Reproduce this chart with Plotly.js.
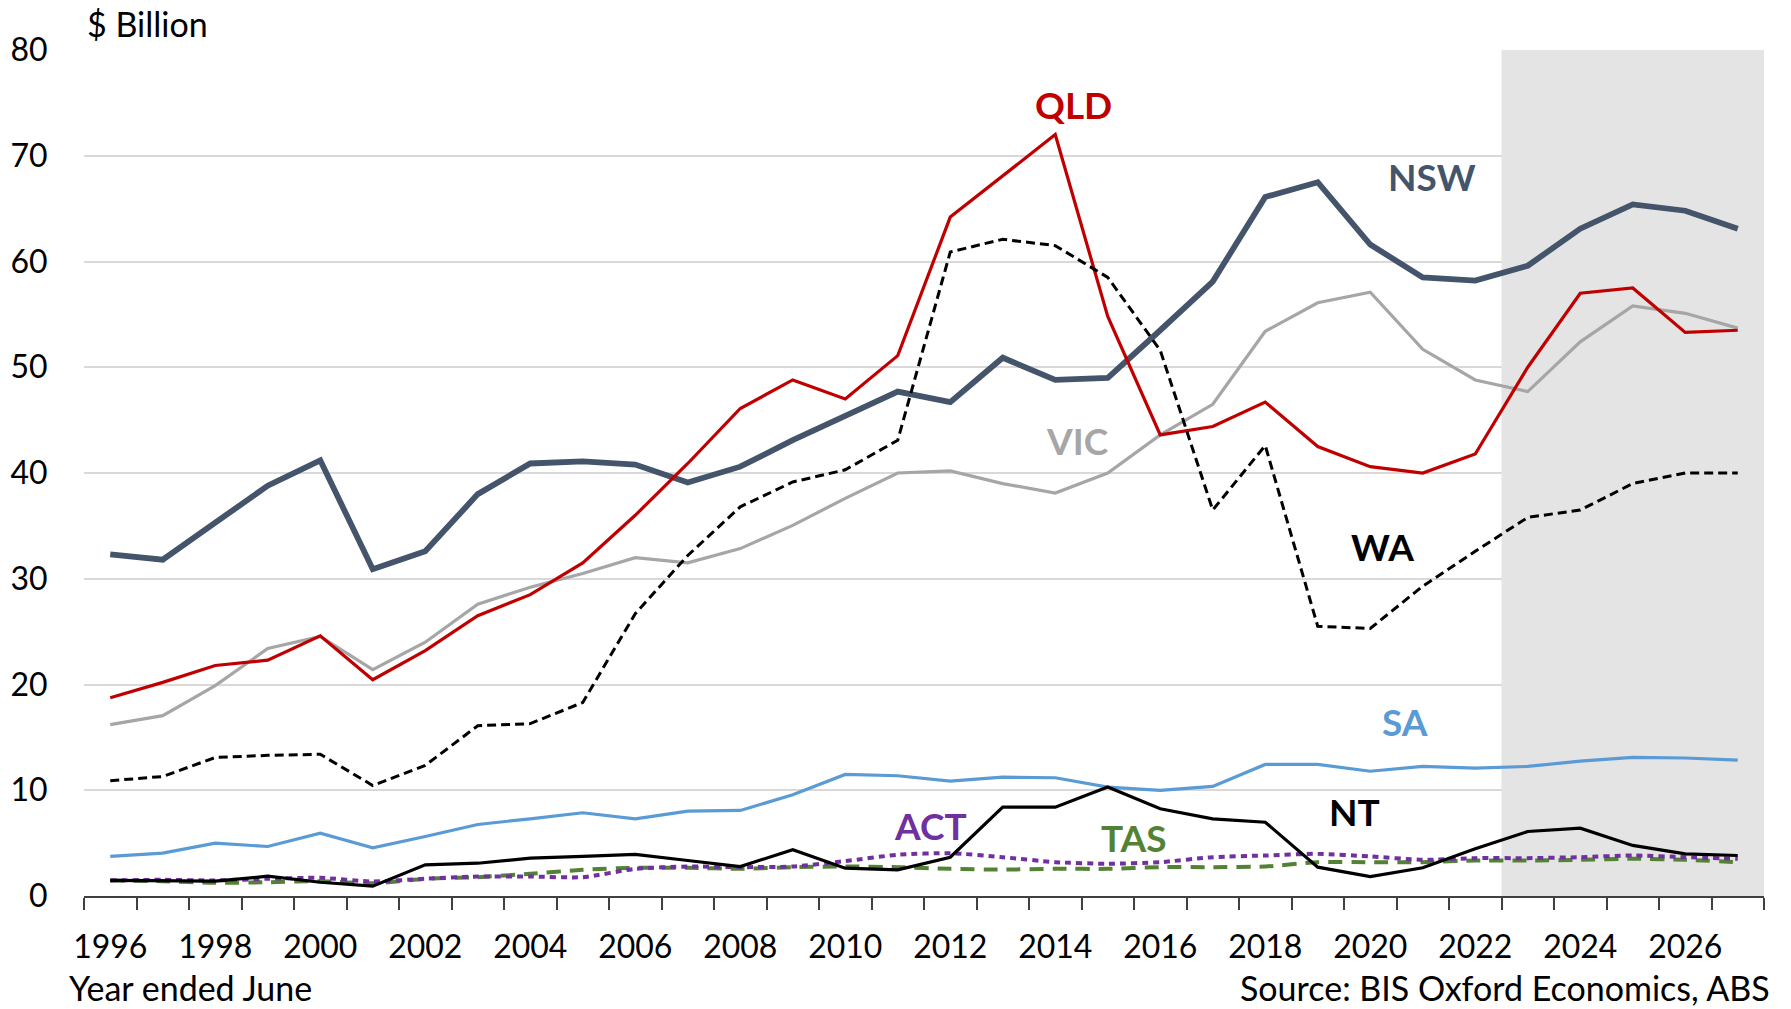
<!DOCTYPE html>
<html>
<head>
<meta charset="utf-8">
<script src="https://cdn.plot.ly/plotly-3.0.1.min.js"></script>
<style>
  html, body { margin: 0; padding: 0; background: #ffffff; }
  #chart { width: 1791px; height: 1009px; }
</style>
</head>
<body>
<div id="chart"></div>
<script>
// Years (year ended June)
const years = [1996,1997,1998,1999,2000,2001,2002,2003,2004,2005,2006,2007,2008,2009,2010,2011,
               2012,2013,2014,2015,2016,2017,2018,2019,2020,2021,2022,2023,2024,2025,2026,2027];
const tickYears = [1996,1998,2000,2002,2004,2006,2008,2010,2012,2014,2016,2018,2020,2022,2024,2026];

// $ Billion by state
const nsw = [32.3,31.8,35.3,38.8,41.2,30.9,32.6,38.0,40.9,41.1, 40.8,39.1,40.6,43.1,45.4,47.7,46.7,50.9,48.8,49.0,
             53.5,58.1,66.1,67.5,61.6,58.5,58.2,59.6,63.1,65.4, 64.8,63.1];
const qld = [18.75,20.2,21.8,22.3,24.6,20.45,23.2,26.5,28.5,31.5, 36.0,40.9,46.1,48.8,47.0,51.1,64.2,68.1,72.0,54.8,
             43.6,44.4,46.7,42.5,40.6,40.0,41.8,50.0,57.0,57.5, 53.3,53.5];
const vic = [16.2,17.05,19.9,23.4,24.55,21.4,24.0,27.6,29.2,30.5, 32.0,31.5,32.85,35.05,37.6,40.0,40.2,39.0,38.1,40.0,
             43.6,46.5,53.4,56.1,57.1,51.7,48.8,47.7,52.4,55.8, 55.1,53.7];
const wa  = [10.9,11.3,13.1,13.3,13.4,10.45,12.35,16.1,16.3,18.3, 26.7,32.2,36.8,39.15,40.3,43.1,60.9,62.1,61.5,58.5,
             51.6,36.5,42.6,25.5,25.3,29.3,32.6,35.8,36.5,39.0, 40.0,40.0];
const sa  = [3.74,4.05,5.0,4.68,5.94,4.56,5.63,6.76,7.3,7.87, 7.3,8.03,8.09,9.57,11.5,11.37,10.86,11.24,11.18,10.3,
             9.98,10.36,12.44,12.44,11.8,12.25,12.1,12.25,12.75,13.1, 13.05,12.85];
const nt  = [1.47,1.4,1.4,1.87,1.3,0.93,2.95,3.1,3.58,3.74, 3.93,3.36,2.79,4.37,2.63,2.48,3.67,8.4,8.4,10.3,
             8.25,7.3,6.98,2.73,1.84,2.67,4.46,6.1,6.42,4.78, 3.99,3.83];
const act = [1.47,1.53,1.47,1.63,1.72,1.37,1.63,1.84,1.84,1.78, 2.57,2.79,2.73,2.79,3.3,3.9,4.05,3.67,3.2,3.05,
             3.2,3.67,3.83,3.99,3.74,3.42,3.58,3.58,3.67,3.83, 3.67,3.52];
const tas = [1.47,1.4,1.25,1.3,1.4,1.2,1.63,1.78,2.1,2.48, 2.67,2.67,2.57,2.73,2.79,2.73,2.57,2.5,2.57,2.57,
             2.73,2.73,2.79,3.2,3.2,3.2,3.36,3.36,3.42,3.52, 3.42,3.2];

// Forecast period shading (category boundaries)
const forecastStart = 2022.5;
const forecastEnd = 2027.5;

const FONT = 'Lato, "Open Sans", sans-serif';

function tr(y, color, width, dash, shape) {
  return {
    x: years, y: y, type: 'scatter', mode: 'lines',
    line: { color: color, width: width, dash: dash || 'solid', shape: shape || 'linear', smoothing: 0.6 },
    hoverinfo: 'skip', showlegend: false
  };
}

const data = [
  tr(vic, '#a6a6a6', 3.2),
  tr(nsw, '#44546a', 5.8),
  tr(qld, '#c00000', 3.2),
  tr(wa, '#000000', 3, '9px,5px'),
  tr(sa, '#5b9bd5', 3.2),
  tr(tas, '#548235', 4, '14px,9px', 'spline'),
  tr(act, '#7030a0', 4, '6px,5px', 'spline'),
  tr(nt, '#000000', 3.2)
];

function lab(text, x, y, color) {
  return { text: '<b>' + text + '</b>', x: x, y: y, xref: 'x', yref: 'y', showarrow: false,
           xanchor: 'center', yanchor: 'middle', font: { family: FONT, size: 37, color: color } };
}

const layout = {
  width: 1791, height: 1009,
  margin: { l: 84, r: 27, t: 50, b: 113 },
  paper_bgcolor: '#ffffff', plot_bgcolor: '#ffffff',
  font: { family: FONT, size: 32, color: '#000000' },
  xaxis: {
    type: 'linear', range: [1995.5, 2027.5],
    tickmode: 'array', tickvals: tickYears, ticktext: tickYears.map(String),
    ticks: 'outside', ticklen: 22, tickcolor: 'rgba(0,0,0,0)',
    tickfont: { family: FONT, size: 32, color: '#000000' },
    showgrid: false, zeroline: false,
    showline: true, linecolor: '#404040', linewidth: 2,
    minor: { ticks: 'outside', ticklen: 12, tickwidth: 2, tickcolor: '#404040', tick0: 1995.5, dtick: 1, showgrid: false }
  },
  yaxis: {
    range: [0, 80], tickmode: 'linear', tick0: 0, dtick: 10,
    ticks: 'outside', ticklen: 29, tickcolor: 'rgba(0,0,0,0)',
    tickfont: { family: FONT, size: 32, color: '#000000' },
    showgrid: true, gridcolor: '#d9d9d9', gridwidth: 2,
    zeroline: false, showline: false
  },
  shapes: [{
    type: 'rect', xref: 'x', yref: 'y', x0: forecastStart, x1: forecastEnd, y0: 0, y1: 80,
    fillcolor: '#e4e4e4', line: { width: 0 }, layer: 'between'
  }],
  annotations: [
    { text: '$ Billion', xref: 'paper', yref: 'paper', x: 0.0005, y: 1.031, xanchor: 'left', yanchor: 'middle',
      showarrow: false, font: { family: FONT, size: 34, color: '#000000' } },
    { text: 'Year ended June', xref: 'paper', yref: 'paper', x: -0.0095, y: -0.1333, xanchor: 'left', yanchor: 'bottom',
      showarrow: false, borderpad: 0, font: { family: FONT, size: 34, color: '#000000' } },
    { text: 'Source: BIS Oxford Economics, ABS', xref: 'paper', yref: 'paper', x: 1.0039, y: -0.1333, xanchor: 'right', yanchor: 'bottom',
      showarrow: false, borderpad: 0, font: { family: FONT, size: 34, color: '#000000' } },
    lab('QLD', 2014.35, 74.8, '#c00000'),
    lab('NSW', 2021.17, 68.0, '#44546a'),
    lab('VIC', 2014.42, 43.1, '#a6a6a6'),
    lab('WA', 2020.24, 33.07, '#000000'),
    lab('SA', 2020.66, 16.5, '#5b9bd5'),
    lab('NT', 2019.7, 8.0, '#000000'),
    lab('TAS', 2015.5, 5.5, '#548235'),
    lab('ACT', 2011.63, 6.67, '#7030a0')
  ]
};

Plotly.newPlot('chart', data, layout, { displayModeBar: false, staticPlot: true });
</script>
</body>
</html>
